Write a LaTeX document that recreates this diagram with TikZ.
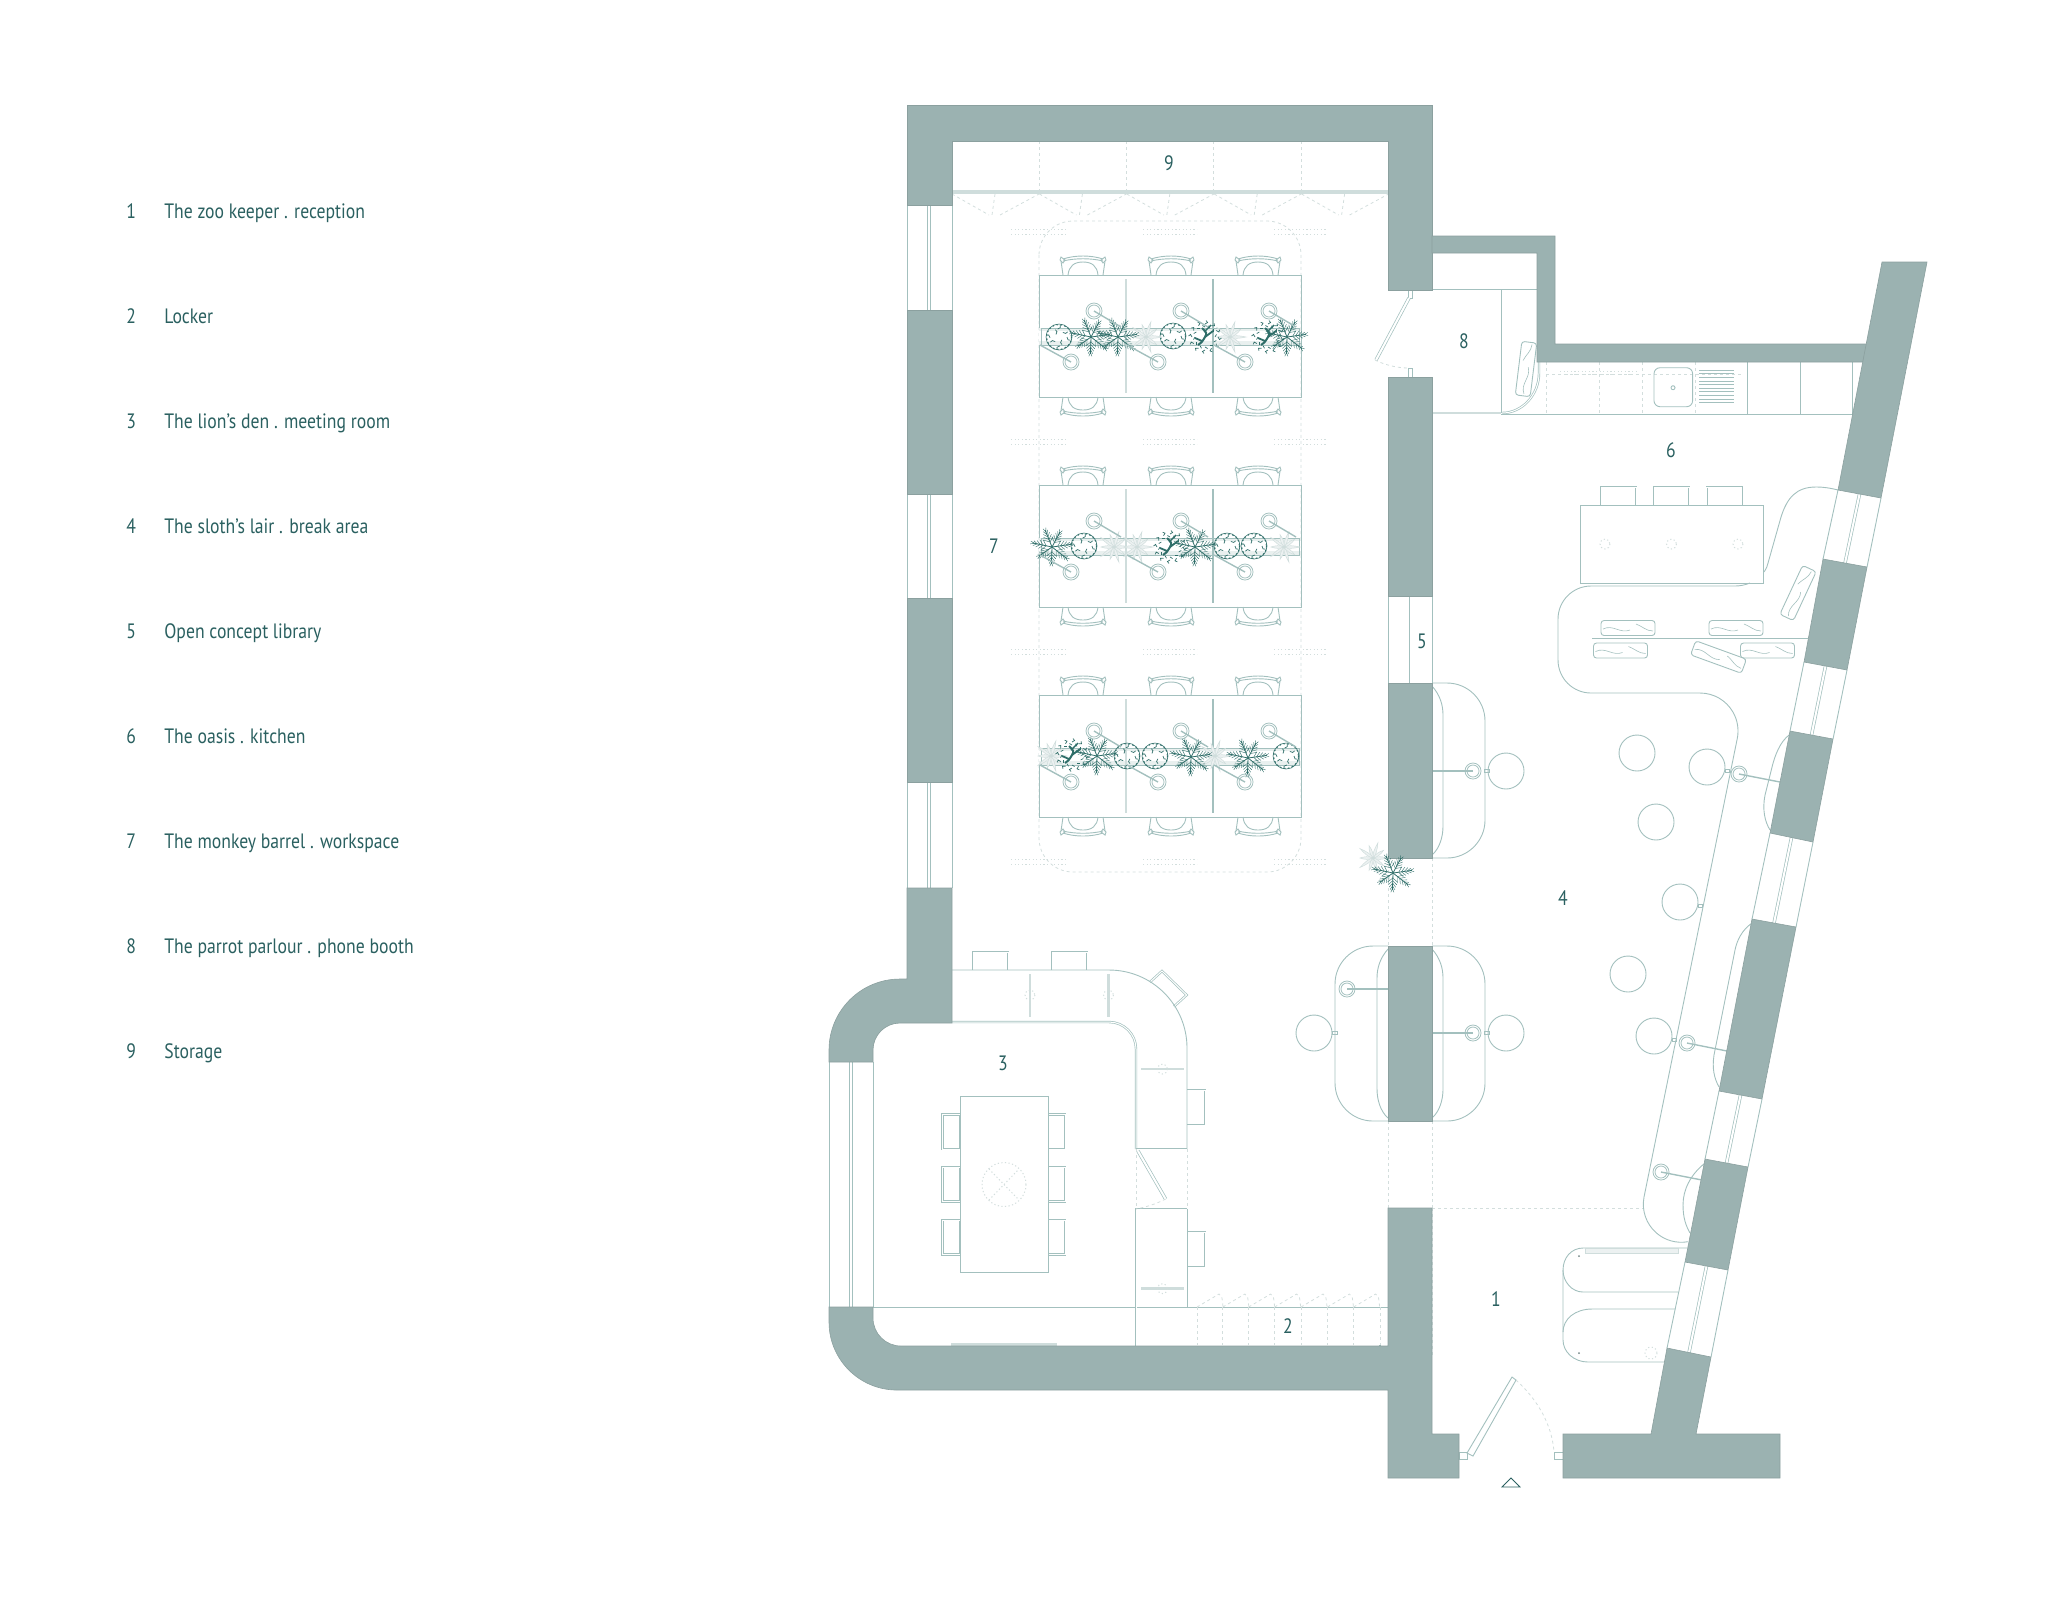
\documentclass[tikz,border=0pt]{standalone}
\usepackage{fontspec}
\setmainfont[FakeStretch=.85]{PT Sans}
\usetikzlibrary{calc}
\definecolor{wallcol}{HTML}{9BB2B1}
\definecolor{linecol}{HTML}{A3C0BE}
\definecolor{lightcol}{HTML}{CFDDDC}
\definecolor{dashcol}{HTML}{D3DEDD}
\definecolor{textcol}{HTML}{2A6060}
\definecolor{plantcol}{HTML}{2F6E69}
\tikzset{
	wall/.style={fill=wallcol, draw=wallcol!90!black, line width=.3pt},
	thinline/.style={draw=linecol, line width=.45pt},
	lightbar/.style={draw=lightcol, line width=1.3pt},
	dashline/.style={draw=dashcol, line width=.4pt, dash pattern=on 1.5pt off 1.5pt},
	dotline/.style={draw=dashcol, line width=.5pt, dash pattern=on .6pt off 1.2pt},
	mullion/.style={draw=linecol, line width=.35pt, double=white, double distance=1pt},
	chairbox/.style={draw=linecol, line width=.35pt, double=white, double distance=.5pt},
	plantline/.style={draw=plantcol, line width=.2pt},
	roomtext/.style={text=textcol, font=\fontsize{10.4}{12}\selectfont, inner sep=0pt},
	fernplant/.pic={
		\foreach \a/\l in {8/19,62/17,112/18,168/20,215/16,268/17,322/19} {
			\begin{scope}[rotate=\a]
				\draw[plantline, line width=.4pt] (0,0) -- (\l,0);
				\foreach \t in {.3,.45,.6,.75,.9} {
					\draw[plantline] ({\t*\l},0) -- ++(4,{6*(1.15-\t)});
					\draw[plantline] ({\t*\l},0) -- ++(4,{-6*(1.15-\t)});
				}
			\end{scope}
		}
	},
	lightplant/.pic={
		\foreach \a/\l in {0/16,36/13,72/16,108/13,144/16,180/13,216/16,252/13,288/16,324/13} {
			\begin{scope}[rotate=\a]
				\draw[draw=lightcol, fill=lightcol!40, line width=.25pt] (0,0) .. controls (4,2) and (9,1.5) .. (\l,0) .. controls (9,-1.5) and (4,-2) .. (0,0);
			\end{scope}
		}
	},
	shrubplant/.pic={
		\draw[plantline, line width=.3pt] (0,0) circle (13);
		\draw[plantline, line width=.45pt, dash pattern=on .8pt off 1.2pt] (0,0) circle (12.5);
		\foreach \a/\r in {0/8,45/4,85/9,130/6,175/9,220/4,260/8,310/6} {
			\draw[plantline, line width=.35pt] (\a:\r) -- ++({\a+70}:3) -- ++({\a+10}:2.5);
		}
	},
	bonsaiplant/.pic={
		\draw[plantline, line width=1pt] (-7,8) .. controls (-3,5) .. (0,0) .. controls (2,-4) .. (-3,-9);
		\draw[plantline, line width=.9pt] (0,0) -- (8,-6);
		\draw[plantline, line width=.9pt] (-3,4) -- (-10,1);
		\draw[plantline, line width=.7pt] (-1,-5) -- (6,-12);
		\foreach \a in {0,30,...,330} {
			\draw[plantline, line width=.35pt] (\a:13) -- ++({\a+60}:3) -- ++({\a-40}:2.5);
			\draw[plantline, line width=.35pt] (\a:10) -- ++({\a-60}:3);
		}
	},
	deskchair/.pic={
		\draw[thinline] (-20,0) -- (-22,-14);
		\draw[thinline] (20,0) -- (22,-14);
		\draw[thinline] (-15,0) .. controls (-14,-9) and (-9,-13) .. (0,-13) .. controls (9,-13) and (14,-9) .. (15,0);
		\draw[thinline] (-20,-16) .. controls (-8,-20) and (8,-20) .. (20,-16);
		\draw[thinline] (-20,-14) .. controls (-8,-17) and (8,-17) .. (20,-14);
		\draw[thinline] (-22,-18) -- (-18,-15) -- (-20,-12) -- (-23,-15) -- cycle;
		\draw[thinline] (22,-18) -- (18,-15) -- (20,-12) -- (23,-15) -- cycle;
	},
	lampring/.pic={
		\draw[thinline, line width=.4pt] (0,0) circle (8);
		\draw[thinline, line width=.4pt] (0,0) circle (6);
	},
	cushion/.pic={
		\draw[thinline, rounded corners=1.5pt] (-27,-7.5) rectangle (27,7.5);
		\draw[thinline, line width=.3pt] (-25,1) .. controls (-15,-4) and (-8,6) .. (2,2);
		\draw[thinline, line width=.3pt] (8,-4) .. controls (14,-2) and (18,3) .. (25,3);
	},
	boothside/.pic={
		\draw[thinline] (0,0) -- (15,0) arc[start angle=-90, end angle=0, radius=38] -- (53,137) arc[start angle=0, end angle=90, radius=38] -- (0,175);
		\draw[thinline] (0,3) .. controls (8,12) and (11,22) .. (11,32) -- (11,143) .. controls (11,153) and (8,165) .. (0,172);
	}
}
\begin{document}
\begin{tikzpicture}[x=.5pt, y=-.5pt]
	\useasboundingbox (0,0) rectangle (2048,1614);

	\foreach \n/\y/\t in {1/218/The zoo keeper . reception, 2/323/Locker, 3/428/The lion's den . meeting room, 4/533/The sloth's lair . break area, 5/638/Open concept library, 6/743/The oasis . kitchen, 7/848/The monkey barrel . workspace, 8/953/The parrot parlour . phone booth, 9/1058/Storage} {
		\node[roomtext, anchor=base west] (num\n) at (126,\y) {\n};
		\node[roomtext, anchor=base west] (leg\n) at (164,\y) {\t};
	}

	\foreach \a/\b in {205/310, 494/598, 782/888} {
		\draw[thinline] (907,\a) -- (907,\b);
		\draw[thinline] (952,\a) -- (952,\b);
		\draw[mullion] (929,\a) -- (929,\b);
	}
	\draw[thinline] (829,1062) -- (829,1307);
	\draw[thinline] (873,1062) -- (873,1307);
	\draw[mullion] (851,1062) -- (851,1307);
	\draw[thinline] (873,1307) -- (1388,1307);

	\foreach \ax/\ay/\bx/\by/\cx/\cy/\dx/\dy in {1667/1348/1711/1357/1685/1262/1728/1270, 1705/1159/1748/1167/1719/1091/1762/1099, 1752/919/1796/927/1770/833/1813/842, 1790/731/1833/739/1804/662/1847/670, 1823/559/1867/567/1838/490/1881/498} {
		\draw[thinline] (\ax,\ay) -- (\cx,\cy);
		\draw[thinline] (\bx,\by) -- (\dx,\dy);
		\draw[mullion] ($(\ax,\ay)!.5!(\bx,\by)$) -- ($(\cx,\cy)!.5!(\dx,\dy)$);
	}

	\fill[lightcol] (952,190) rectangle (1388,194);
	\foreach \x in {1039,1126,1213,1301} {
		\draw[dashline] (\x,141) -- (\x,190);
	}
	\foreach \x in {952,1039.4,1126.8,1214.2,1301.6} {
		\draw[dashline] (\x,194) -- ({\x+37},215);
		\draw[dashline] ({\x+43},194) -- ({\x+40},215);
		\draw[dashline] ({\x+48},215) -- ({\x+87},194);
	}
	\draw[dashline, rounded corners=17pt] (1039,221) rectangle (1301,872);
	\foreach \y in {229,439,649,859} {
		\foreach \a/\b in {1011/1066, 1143/1197, 1274/1327} {
			\draw[dotline] (\a,\y) -- (\b,\y);
			\draw[dotline] (\a,{\y+5}) -- (\b,{\y+5});
		}
	}

	\foreach \r in {0,210,420} {
		\begin{scope}[yshift={-.5pt*\r}]
			\foreach \x in {1083,1171,1258} {
				\pic at (\x,275) {deskchair};
				\pic[yscale=-1] at (\x,397) {deskchair};
			}
			\draw[thinline] (1039,275) rectangle (1301,397);
			\fill[lightcol!45] (1039,328) rectangle (1301,345);
			\fill[white] (1039,331) rectangle (1301,341);
			\draw[thinline, line width=.35pt] (1041,328) rectangle (1299,345);
			\draw[lightbar] (1126,279) -- (1126,393);
			\draw[thinline, line width=.6pt] (1213,279) -- (1213,393);
		\end{scope}
	}

	\foreach \x/\y in {1059/337, 1173/336, 1084/546, 1227/546, 1254/546, 1127/756, 1155/756, 1286/756} {
		\pic at (\x,\y) {shrubplant};
	}
	\foreach \x/\y in {1146/337, 1230/337, 1114/547, 1137/547, 1284/547, 1051/756, 1215/756} {
		\pic at (\x,\y) {lightplant};
	}
	\foreach \x/\y in {1205/337, 1268/337, 1170/547, 1072/755} {
		\pic at (\x,\y) {bonsaiplant};
	}
	\foreach \x/\y in {1091/337, 1118/337, 1287/337, 1052/547, 1195/547, 1097/756, 1191/757, 1248/758} {
		\pic at (\x,\y) {fernplant};
	}
	\foreach \r in {0,210,420} {
		\begin{scope}[yshift={-.5pt*\r}]
			\foreach \x in {1094,1181,1269} {
				\pic at (\x,311) {lampring};
				\draw[thinline, line width=.7pt] (\x,311) -- ({\x+27},327);
			}
			\foreach \x in {1071,1158,1245} {
				\pic at (\x,362) {lampring};
				\draw[thinline, line width=.7pt] (\x,362) -- ({\x-31},345);
			}
		\end{scope}
	}

	\foreach \y in {1114.5,1167,1220} {
		\draw[chairbox] (960,\y) rectangle (942.5,{\y+34.5});
		\draw[chairbox] (1048,\y) rectangle (1065,{\y+34.5});
	}
	\draw[thinline, fill=white] (960,1096.5) rectangle (1048,1272);
	\draw[dotline] (1004,1184.5) circle (22);
	\draw[dotline] (989,1169) -- (1019,1200);
	\draw[dotline] (989,1200) -- (1019,1169);

	\foreach \x in {973,1052} {
		\draw[chairbox] (\x,970) -- (\x,952) -- ({\x+35},952) -- ({\x+35},970);
	}
	\draw[chairbox] (1150,982) -- (1162,971) -- (1186.6,995) -- (1174,1006.5);
	\foreach \y in {1090,1232} {
		\draw[chairbox] (1187,\y) -- (1205,\y) -- (1205,{\y+35}) -- (1187,{\y+35});
	}
	\draw[thinline] (952,970) -- (1109,970) arc[start angle=-90, end angle=0, radius=78] -- (1187,1149);
	\draw[chairbox] (952,1022) -- (1109,1022) arc[start angle=-90, end angle=0, radius=27] -- (1136,1149);
	\draw[chairbox] (1136,1149) -- (1187,1149);
	\draw[chairbox] (1187,1209) -- (1136,1209) -- (1136,1346);
	\draw[thinline] (1187,1209) -- (1187,1307);
	\draw[dashline] (1136,1149) -- (1136,1209);
	\draw[dashline] (1187,1149) -- (1187,1209);
	\foreach \x in {1030,1108.5} {
		\draw[lightbar] (\x,974) -- (\x,1017);
		\draw[dotline] (\x,995) circle (5);
	}
	\foreach \y in {1069,1288.6} {
		\draw[lightbar] (1141,\y) -- (1183.6,\y);
		\draw[dotline] (1162.5,\y) circle (5);
	}
	\draw[mullion] (1138,1151) -- (1165.6,1199);
	\draw[dashline] (1165.6,1199) .. controls (1156,1204) and (1146,1207) .. (1136,1209);

	\foreach \x in {1197,1222.8,1248.6,1274.6,1301,1327.4,1353.6} {
		\draw[dashline] (\x,1307) -- (\x,1345);
		\draw[dashline] (\x,1307) -- ({\x+22},1294) .. controls ({\x+25},1296) .. ({\x+26},1307);
	}
	\draw[dashline] (1380.6,1307) -- (1380.6,1345);
	\fill[lightcol] (951,1343) rectangle (1056.5,1346);
	\fill[plantcol] (1380,1346) circle (1);

	\pic at (1432,683) {boothside};
	\pic at (1432,946) {boothside};
	\pic[xscale=-1] at (1388,946) {boothside};
	\foreach \a/\b in {858/946, 1121/1208} {
		\draw[dashline] (1388,\a) -- (1388,\b);
		\draw[dashline] (1432,\a) -- (1432,\b);
	}
	\draw[dashline] (1432,1208) -- (1432,1357);
	\draw[dashline] (1432,1208) -- (1644,1208);

	\foreach \lx/\ly/\ex/\ey in {1473/771/1432/771, 1473/1033/1432/1033, 1347/989/1388/989, 1739/774/1780/782, 1687/1043/1727/1051, 1661/1172/1702/1180} {
		\pic at (\lx,\ly) {lampring};
		\draw[thinline, line width=.7pt] (\lx,\ly) -- (\ex,\ey);
	}
	\foreach \x/\y in {1506/771, 1506/1033, 1314/1033, 1707/767, 1637/753, 1656/822, 1680/902, 1628/974, 1654/1036} {
		\draw[thinline] (\x,\y) circle (18);
	}
	\foreach \a/\b/\c/\d in {1484/769.5/1489/772.5, 1484/1031.5/1489/1034.5, 1332/1031.5/1337/1034.5, 1725/769/1729/772, 1698/904/1702/907, 1672/1038/1676/1041} {
		\draw[thinline, line width=.3pt] (\a,\b) rectangle (\c,\d);
	}

	\draw[thinline] (1838,490) .. controls (1830,488) and (1824,487) .. (1816,487) .. controls (1796,487) and (1787,498) .. (1781,517) -- (1768,563) .. controls (1767,567) .. (1764,572);
	\draw[thinline] (1750,583) .. controls (1745,585) and (1740,586) .. (1735,586) -- (1591,586) arc[start angle=-90, end angle=-180, radius=33] -- (1558,660) arc[start angle=180, end angle=90, radius=33] -- (1700,693) arc[start angle=-90, end angle=11, radius=38] -- (1644,1197) arc[start angle=191, end angle=80, radius=38];
	\draw[thinline] (1705,1163) .. controls (1690,1175) and (1683,1190) .. (1683,1205) .. controls (1683,1218) and (1686,1226) .. (1690,1233);
	\draw[thinline] (1752,923) .. controls (1742,930) and (1737,940) .. (1735,950) -- (1714,1055) .. controls (1712,1068) and (1714,1078) .. (1719,1087);
	\draw[thinline] (1789,735) .. controls (1780,742) and (1775,755) .. (1772,767) -- (1765,795) .. controls (1762,810) and (1765,822) .. (1770,830);

	\draw[thinline] (1432,289) -- (1537,289);
	\draw[thinline] (1501,289) -- (1501,413);
	\draw[lightbar] (1433,413) -- (1501,413);
	\draw[thinline] (1501,414) -- (1852.5,414);
	\draw[chairbox] (1502,413) .. controls (1522,413) and (1539,395) .. (1539,373) -- (1539,362);
	\pic[rotate=83] at (1526,369) {cushion};
	\foreach \x in {1546.5,1599,1642.7,1695.6} {
		\draw[dashline] (\x,362) -- (\x,413);
	}
	\foreach \x in {1747,1800,1852.5} {
		\draw[thinline] (\x,362) -- (\x,414);
	}
	\draw[dashline] (1546,374) -- (1744,374);
	\draw[dotline] (1560,371) -- (1637,371);
	\draw[dotline] (1560,374) -- (1637,374);
	\draw[thinline, rounded corners=3pt] (1654,367.7) rectangle (1692.6,406.7);
	\draw[thinline] (1673,387.7) circle (2);
	\foreach \y in {370,373.6,...,406} {
		\draw[thinline, line width=.3pt] (1699,\y) -- (1734.4,\y);
	}

	\foreach \x in {1601,1654,1706.7} {
		\draw[chairbox] (\x,505) -- (\x,487) -- ({\x+35},487) -- ({\x+35},505);
	}
	\draw[thinline] (1580,505) rectangle (1763.7,583);
	\foreach \x in {1605,1671.5,1738} {
		\draw[dotline] (\x,544) circle (5);
	}
	\draw[chairbox] (1592,639) -- (1808,639);
	\foreach \x/\y in {1628/628, 1736/628, 1620.5/650.5, 1767.5/650.5} {
		\pic at (\x,\y) {cushion};
	}
	\pic[rotate=-20] at (1718.5,657) {cushion};
	\pic[rotate=65] at (1798,593) {cushion};

	\draw[thinline] (1687,1248) -- (1583,1248) .. controls (1571,1248) and (1563,1258) .. (1563,1270) -- (1563,1340) .. controls (1563,1352) and (1574,1362) .. (1588,1362) -- (1665,1362);
	\draw[thinline] (1563,1270) .. controls (1563,1282) and (1572,1292) .. (1583,1292) -- (1678,1292);
	\draw[thinline] (1563,1332) .. controls (1563,1319) and (1575,1309) .. (1592,1309) -- (1675,1309);
	\draw[lightbar, line width=.4pt, fill=lightcol!40] (1585,1248) rectangle (1678,1253);
	\fill[linecol!70!black] (1579,1256) circle (1);
	\fill[linecol!70!black] (1579,1353) circle (1);
	\draw[dotline] (1651,1353) circle (6);

	\draw[thinline] (1512,1377) -- (1516,1380) -- (1473,1456) -- (1467,1453) -- cycle;
	\draw[thinline] (1459,1452) rectangle (1467,1459);
	\draw[thinline] (1554,1452) rectangle (1563,1459);
	\draw[dashline] (1516,1380) .. controls (1538,1400) and (1552,1425) .. (1554,1452);
	\draw[draw=textcol, line width=.4pt] (1502,1487) -- (1520,1487) -- (1511,1478) -- cycle;

	\draw[thinline] (1408,290) rectangle (1412.5,298);
	\draw[thinline] (1408,368) rectangle (1412.5,377);
	\draw[mullion] (1409,298) -- (1376,360);
	\draw[dashline] (1375,360) .. controls (1385,365) and (1397,368) .. (1409,368);
	\draw[thinline] (1388,596) -- (1388,683);
	\draw[thinline] (1432,596) -- (1432,683);
	\draw[chairbox] (1410,596) -- (1410,683);

	\draw[wall] (907,105) -- (1432,105) -- (1432,290) -- (1388,290) -- (1388,141) -- (952,141) -- (952,205) -- (907,205) -- cycle;
	\draw[wall] (907,310) rectangle (952,494);
	\draw[wall] (907,598) rectangle (952,782);
	\draw[wall] (907,888) -- (952,888) -- (952,1023) -- (900,1023) arc[start angle=-90, end angle=-180, radius=27] -- (873,1062) -- (829,1062) -- (829,1050) arc[start angle=180, end angle=270, radius=71] -- (907,979) -- cycle;
	\draw[wall] (829,1307) -- (873,1307) -- (873,1318) arc[start angle=180, end angle=90, radius=28] -- (1388,1346) -- (1388,1208) -- (1432,1208) -- (1432,1434) -- (1459,1434) -- (1459,1478) -- (1388,1478) -- (1388,1390) -- (897,1390) arc[start angle=90, end angle=180, radius=68] -- cycle;
	\draw[wall] (1388,377) rectangle (1432,596);
	\draw[wall] (1388,683) rectangle (1432,858);
	\draw[wall] (1388,946) rectangle (1432,1121);
	\draw[wall] (1432,236) -- (1555,236) -- (1555,344) -- (1867,344) -- (1863,362) -- (1537,362) -- (1537,253) -- (1432,253) -- cycle;
	\draw[wall] (1563,1434) -- (1651,1434) -- (1667,1348) -- (1711,1357) -- (1696,1434) -- (1780,1434) -- (1780,1478) -- (1563,1478) -- cycle;
	\foreach \ax/\ay/\bx/\by/\cx/\cy/\dx/\dy in {1685/1262/1728/1270/1748/1167/1705/1159, 1719/1091/1762/1099/1796/927/1752/919, 1770/833/1813/842/1833/739/1790/731, 1804/662/1847/670/1867/567/1823/559, 1838/490/1881/498/1927/262/1882/262} {
		\draw[wall] (\ax,\ay) -- (\bx,\by) -- (\cx,\cy) -- (\dx,\dy) -- cycle;
	}

	\pic at (1373,858) {lightplant};
	\pic at (1393,873) {fernplant};

	\foreach \n/\x/\y in {1/1496/1299, 2/1288/1326, 3/1003/1063, 4/1563/898, 5/1422/641, 6/1671/450, 7/994/546, 8/1464/341, 9/1169/163} {
		\node[roomtext] (room\n) at (\x,\y) {\n};
	}
\end{tikzpicture}
\end{document}
